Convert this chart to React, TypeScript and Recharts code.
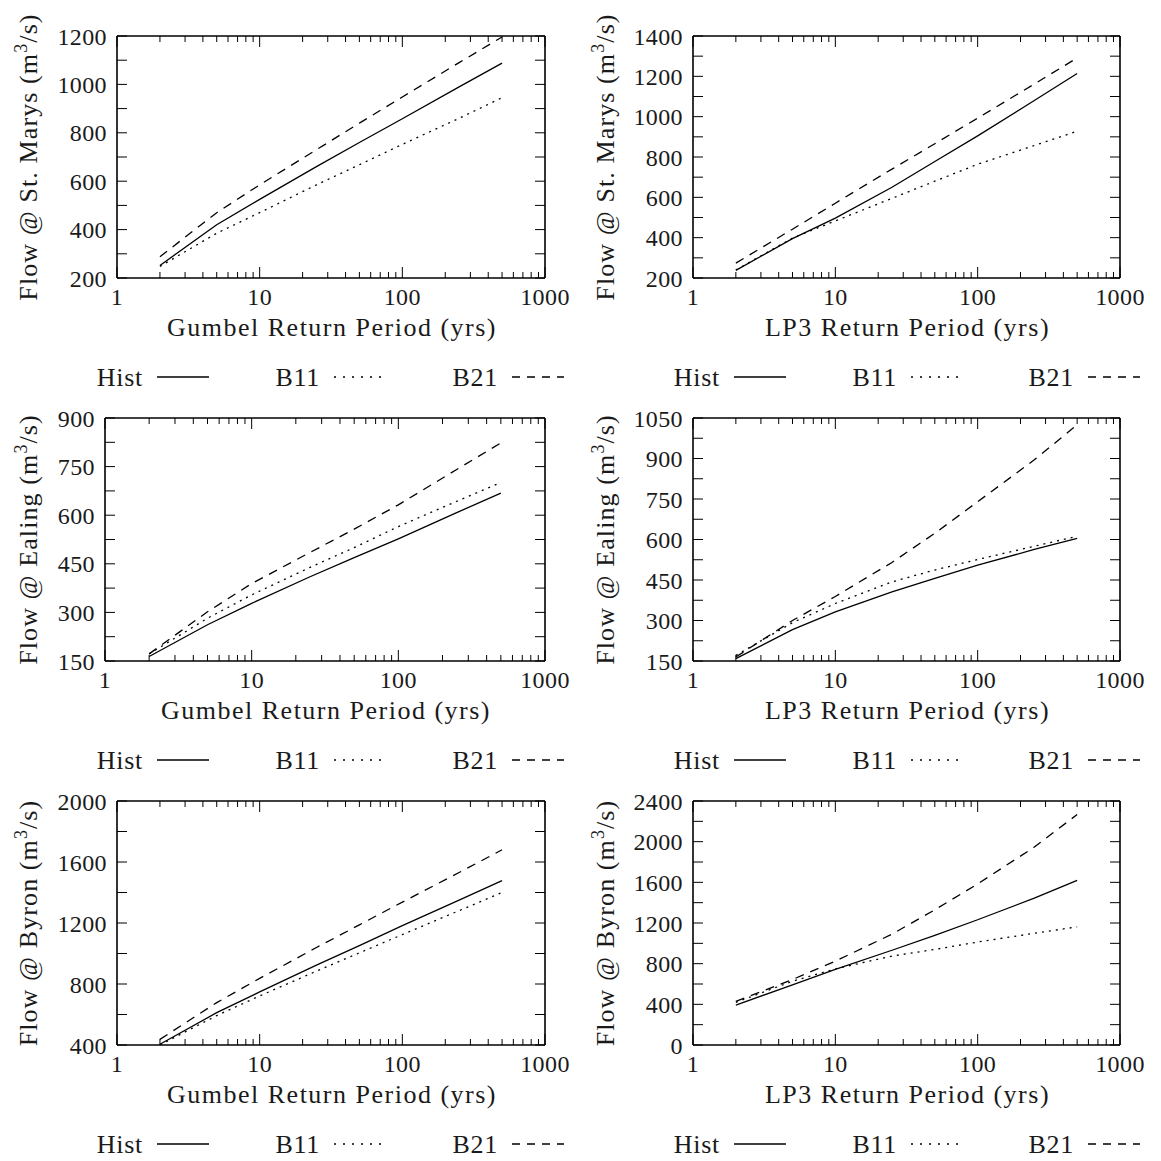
import React from 'react';
import { LineChart, Line, XAxis, YAxis } from 'recharts';

const FONT = "'Liberation Serif', 'Times New Roman', serif";
const TEXT = '#1a1a1a';
const FS = 24;
const FS_TITLE = 26;

// ---------- data ----------
const returnPeriods = [2, 5, 10, 25, 50, 100, 250, 500];
const xMajorTicks = [1, 10, 100, 1000];
const xAllTicks = [1, 2, 3, 4, 5, 6, 7, 8, 9, 10, 20, 30, 40, 50, 60, 70, 80, 90, 100, 200, 300, 400, 500, 600, 700, 800, 900, 1000];
const seriesNames = ['Hist', 'B11', 'B21'];

const stMarysGumbelHist = [252, 420, 525, 660, 760, 858, 990, 1088];
const stMarysGumbelB11 = [248, 385, 470, 585, 668, 752, 860, 945];
const stMarysGumbelB21 = [288, 470, 585, 730, 840, 948, 1090, 1196];

const stMarysLP3Hist = [238, 395, 497, 650, 778, 905, 1080, 1214];
const stMarysLP3B11 = [240, 398, 483, 595, 680, 764, 857, 928];
const stMarysLP3B21 = [274, 442, 571, 740, 866, 993, 1162, 1291];

const ealingGumbelHist = [164, 262, 328, 410, 469, 527, 608, 668];
const ealingGumbelB11 = [172, 282, 354, 439, 500, 565, 643, 701];
const ealingGumbelB21 = [172, 302, 389, 485, 557, 632, 741, 823];

const ealingLP3Hist = [159, 266, 332, 406, 456, 505, 563, 604];
const ealingLP3B11 = [171, 292, 363, 443, 487, 526, 575, 612];
const ealingLP3B21 = [165, 300, 389, 515, 623, 740, 895, 1025];

const byronGumbelHist = [405, 612, 748, 924, 1052, 1183, 1350, 1478];
const byronGumbelB11 = [400, 593, 722, 884, 1004, 1124, 1281, 1400];
const byronGumbelB21 = [437, 678, 837, 1039, 1188, 1337, 1531, 1680];

const byronLP3Hist = [393, 592, 743, 932, 1078, 1232, 1445, 1620];
const byronLP3B11 = [419, 627, 749, 875, 940, 1013, 1099, 1162];
const byronLP3B21 = [429, 644, 825, 1090, 1330, 1584, 1947, 2267];

const yTicksStMarysG = [200, 300, 400, 500, 600, 700, 800, 900, 1000, 1100, 1200];
const yLabelsStMarysG = [200, 400, 600, 800, 1000, 1200];
const yTicksStMarysL = [200, 300, 400, 500, 600, 700, 800, 900, 1000, 1100, 1200, 1300, 1400];
const yLabelsStMarysL = [200, 400, 600, 800, 1000, 1200, 1400];
const yTicksEalingG = [150, 225, 300, 375, 450, 525, 600, 675, 750, 825, 900];
const yLabelsEalingG = [150, 300, 450, 600, 750, 900];
const yTicksEalingL = [150, 225, 300, 375, 450, 525, 600, 675, 750, 825, 900, 975, 1050];
const yLabelsEalingL = [150, 300, 450, 600, 750, 900, 1050];
const yTicksByronG = [400, 600, 800, 1000, 1200, 1400, 1600, 1800, 2000];
const yLabelsByronG = [400, 800, 1200, 1600, 2000];
const yTicksByronL = [0, 200, 400, 600, 800, 1000, 1200, 1400, 1600, 1800, 2000, 2200, 2400];
const yLabelsByronL = [0, 400, 800, 1200, 1600, 2000, 2400];

// ---------- layout ----------
const PW = 580;
const PH = 397;
const rowTops = [0, 382, 764];

const panels = [
  { row: 0, col: 0, station: 'St. Marys', dist: 'Gumbel', hist: stMarysGumbelHist, b11: stMarysGumbelB11, b21: stMarysGumbelB21, yDomain: [200, 1200], yTicks: yTicksStMarysG, yLabels: yLabelsStMarysG, box: { left: 117, right: 545, top: 36, bottom: 278 } },
  { row: 0, col: 1, station: 'St. Marys', dist: 'LP3', hist: stMarysLP3Hist, b11: stMarysLP3B11, b21: stMarysLP3B21, yDomain: [200, 1400], yTicks: yTicksStMarysL, yLabels: yLabelsStMarysL, box: { left: 113, right: 540, top: 36, bottom: 278 } },
  { row: 1, col: 0, station: 'Ealing', dist: 'Gumbel', hist: ealingGumbelHist, b11: ealingGumbelB11, b21: ealingGumbelB21, yDomain: [150, 900], yTicks: yTicksEalingG, yLabels: yLabelsEalingG, box: { left: 105, right: 545, top: 36, bottom: 279 } },
  { row: 1, col: 1, station: 'Ealing', dist: 'LP3', hist: ealingLP3Hist, b11: ealingLP3B11, b21: ealingLP3B21, yDomain: [150, 1050], yTicks: yTicksEalingL, yLabels: yLabelsEalingL, box: { left: 113, right: 540, top: 36, bottom: 279 } },
  { row: 2, col: 0, station: 'Byron', dist: 'Gumbel', hist: byronGumbelHist, b11: byronGumbelB11, b21: byronGumbelB21, yDomain: [400, 2000], yTicks: yTicksByronG, yLabels: yLabelsByronG, box: { left: 117, right: 545, top: 37, bottom: 281 } },
  { row: 2, col: 1, station: 'Byron', dist: 'LP3', hist: byronLP3Hist, b11: byronLP3B11, b21: byronLP3B21, yDomain: [0, 2400], yTicks: yTicksByronL, yLabels: yLabelsByronL, box: { left: 113, right: 540, top: 37, bottom: 281 } },
];

const seriesStyle: Record<string, { dash?: string; legendDash?: string }> = {
  Hist: {},
  B11: { dash: '2 5', legendDash: '2 7' },
  B21: { dash: '9 7', legendDash: '8 7' },
};

const legendTextEnd = [[143, 320, 498], [140, 317, 494]];
const yTitleX = [36, 33];

const textProps = { fontFamily: FONT, fontSize: FS, fill: TEXT };
const titleProps = { fontFamily: FONT, fontSize: FS_TITLE, fill: TEXT };

function makeBottomTick() {
  return (props: any) => {
    const { x, y, payload } = props;
    const major = xMajorTicks.includes(payload.value);
    return (
      <g>
        <line x1={x} x2={x} y1={y} y2={y - (major ? 11 : 6)} stroke="#000" strokeWidth={1} />
        {major && (
          <text x={x} y={y + 27} textAnchor="middle" letterSpacing={0.4} {...textProps}>
            {payload.value}
          </text>
        )}
      </g>
    );
  };
}

function makeTopTick() {
  return (props: any) => {
    const { x, y, payload } = props;
    const major = xMajorTicks.includes(payload.value);
    return <line x1={x} x2={x} y1={y} y2={y + (major ? 11 : 6)} stroke="#000" strokeWidth={1} />;
  };
}

function makeLeftTick(labels: number[]) {
  return (props: any) => {
    const { x, y, payload } = props;
    const lab = labels.includes(payload.value);
    return (
      <g>
        <line x1={x} x2={x + 10} y1={y} y2={y} stroke="#000" strokeWidth={1} />
        {lab && (
          <text x={x - 10} y={y + 8.5} textAnchor="end" letterSpacing={0.4} {...textProps}>
            {payload.value}
          </text>
        )}
      </g>
    );
  };
}

function makeRightTick() {
  return (props: any) => {
    const { x, y } = props;
    return <line x1={x} x2={x - 10} y1={y} y2={y} stroke="#000" strokeWidth={1} />;
  };
}

function Panel({ cfg }: { cfg: any }) {
  const data = returnPeriods.map((t, i) => ({ t, Hist: cfg.hist[i], B11: cfg.b11[i], B21: cfg.b21[i] }));
  const margin = { top: cfg.box.top - 1, bottom: PH - cfg.box.bottom - 1, left: cfg.box.left - 1, right: PW - cfg.box.right - 1 };
  const axisLine = { stroke: '#000', strokeWidth: 1.6 };
  const cx = (cfg.box.left + cfg.box.right) / 2;
  const cy = (cfg.box.top + cfg.box.bottom) / 2;
  const tx = yTitleX[cfg.col];
  const legBase = cfg.box.bottom + 108;

  const xTitle = () => (
    <text x={cx + 1} y={cfg.box.bottom + 58} textAnchor="middle" letterSpacing={1.5} {...titleProps}>
      {cfg.dist} Return Period (yrs)
    </text>
  );
  const yTitle = () => (
    <text x={tx} y={cy + 1} textAnchor="middle" letterSpacing={1.1} transform={`rotate(-90, ${tx}, ${cy})`} {...titleProps}>
      Flow @ {cfg.station} (m
      <tspan dy={-10} fontSize={18}>3</tspan>
      <tspan dy={10}>/s)</tspan>
    </text>
  );

  return (
    <div style={{ position: 'absolute', left: cfg.col * PW, top: rowTops[cfg.row], width: PW, height: PH }}>
      <LineChart width={PW} height={PH} data={data} margin={margin}>
        <XAxis xAxisId="b" dataKey="t" type="number" scale="log" domain={[1, 1000]} ticks={xAllTicks} interval={0}
          tick={makeBottomTick()} tickLine={false} tickSize={0} tickMargin={0} height={1} axisLine={axisLine} allowDataOverflow label={xTitle} />
        <XAxis xAxisId="t" orientation="top" dataKey="t" type="number" scale="log" domain={[1, 1000]} ticks={xAllTicks} interval={0}
          tick={makeTopTick()} tickLine={false} tickSize={0} tickMargin={0} height={1} axisLine={axisLine} allowDataOverflow />
        <YAxis yAxisId="l" type="number" domain={cfg.yDomain} ticks={cfg.yTicks} interval={0}
          tick={makeLeftTick(cfg.yLabels)} tickLine={false} tickSize={0} tickMargin={0} width={1} axisLine={axisLine} allowDataOverflow label={yTitle} />
        <YAxis yAxisId="r" orientation="right" type="number" domain={cfg.yDomain} ticks={cfg.yTicks} interval={0}
          tick={makeRightTick()} tickLine={false} tickSize={0} tickMargin={0} width={1} axisLine={axisLine} allowDataOverflow />
        {seriesNames.map((s) => (
          <Line key={s} xAxisId="b" yAxisId="l" dataKey={s} type="linear" stroke="#000" strokeWidth={1.3}
            strokeDasharray={seriesStyle[s].dash} dot={false} activeDot={false} isAnimationActive={false} />
        ))}
      </LineChart>
      <svg width={PW} height={PH} style={{ position: 'absolute', left: 0, top: 0, pointerEvents: 'none' }}>
        {seriesNames.map((s, i) => {
          const end = legendTextEnd[cfg.col][i];
          return (
            <g key={s}>
              <text x={end} y={legBase} textAnchor="end" letterSpacing={0.7} {...titleProps}>{s}</text>
              <line x1={end + 14} x2={end + 66} y1={legBase - 9} y2={legBase - 9} stroke="#000" strokeWidth={1.3}
                strokeDasharray={seriesStyle[s].legendDash} />
            </g>
          );
        })}
      </svg>
    </div>
  );
}

export default function App() {
  return (
    <div style={{ position: 'absolute', left: 0, top: 0, width: 1161, height: 1161, background: '#fff' }}>
      {panels.map((p, i) => (
        <Panel key={i} cfg={p} />
      ))}
    </div>
  );
}
